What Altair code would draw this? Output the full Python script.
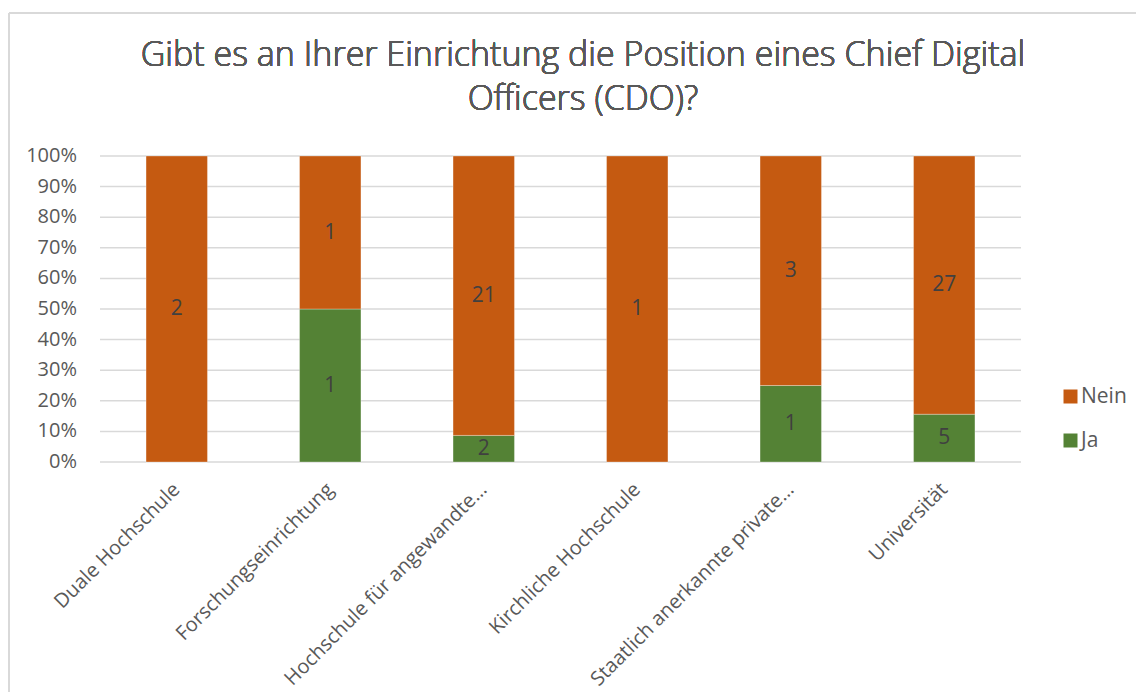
import altair as alt
import pandas as pd

categories = [
    "Duale Hochschule",
    "Forschungseinrichtung",
    "Hochschule für angewandte…",
    "Kirchliche Hochschule",
    "Staatlich anerkannte private…",
    "Universität",
]
ja_counts = [0, 1, 2, 0, 1, 5]
nein_counts = [2, 1, 21, 1, 3, 27]
answers = ["Nein", "Ja"]
answer_colors = ["#C55A11", "#548235"]
y_ticks = [0, 10, 20, 30, 40, 50, 60, 70, 80, 90, 100]
title_lines = ["Gibt es an Ihrer Einrichtung die Position eines Chief Digital",
               "Officers (CDO)?"]

rows = []
for c, j, n in zip(categories, ja_counts, nein_counts):
    rows.append({"cat": c, "answer": "Ja", "value": j})
    rows.append({"cat": c, "answer": "Nein", "value": n})
df = pd.DataFrame(rows)
ticks_df = pd.DataFrame({"t": y_ticks})

FONT = "Open Sans"
GREY = "#595959"

x_axis = alt.Axis(labelAngle=-45, labelFontSize=20, labelColor=GREY, labelFont=FONT,
                  ticks=False, domain=False, labelPadding=17, labelOffset=-7,
                  labelLimit=400, grid=False)
x_scale = alt.Scale(paddingInner=0.6, paddingOuter=0.3)
y_scale = alt.Scale(domain=[0, 100], nice=False)

# percentage gridlines and tick labels, placed through the y scale
grid = alt.Chart(ticks_df).mark_rule(color="#d9d9d9", strokeWidth=1.5).encode(
    y=alt.Y("t:Q", scale=y_scale, axis=None),
    x=alt.value(0), x2=alt.value(921),
)
tick_labels = (
    alt.Chart(ticks_df)
    .transform_calculate(lbl="datum.t + '%'")
    .mark_text(align="right", baseline="middle", fontSize=20, font=FONT, color=GREY)
    .encode(y=alt.Y("t:Q", scale=y_scale, axis=None), x=alt.value(-23),
            text="lbl:N")
)

base = (
    alt.Chart(df)
    .transform_calculate(ord="datum.answer === 'Ja' ? 0 : 1")
    .transform_stack(stack="value", groupby=["cat"], as_=["s0", "s1"],
                     offset="normalize", sort=[alt.SortField("ord", order="ascending")])
    .transform_calculate(y0="datum.s0 * 100", y1="datum.s1 * 100",
                         mid="(datum.s0 + datum.s1) * 50")
)

bars = base.mark_bar(stroke="white", strokeWidth=0.6, strokeOpacity=0.5).encode(
    x=alt.X("cat:N", sort=categories, title=None, scale=x_scale, axis=x_axis),
    y=alt.Y("y0:Q", title=None, scale=y_scale, axis=None),
    y2="y1:Q",
    color=alt.Color("answer:N", title=None,
                    scale=alt.Scale(domain=answers, range=answer_colors),
                    legend=alt.Legend(orient="none", legendX=960, legendY=230,
                                      symbolType="square", symbolSize=196,
                                      symbolStrokeWidth=0, labelFontSize=21,
                                      labelColor=GREY, labelFont=FONT,
                                      rowPadding=22, labelOffset=0)),
)

labels = (
    base.transform_filter("datum.value > 0")
    .mark_text(fontSize=21, color="#404040", font=FONT)
    .encode(x=alt.X("cat:N", sort=categories, title=None, scale=x_scale, axis=x_axis),
            y=alt.Y("mid:Q", title=None, scale=y_scale, axis=None),
            text="value:Q")
)

# chart title, drawn as text above the plot
title = alt.Chart(df).mark_text(
    text=title_lines, fontSize=34, font=FONT, fontWeight=300, color=GREY, lineHeight=44,
    align="center", baseline="alphabetic",
).encode(x=alt.value(483), y=alt.value(-90))

# decorative frame of the chart box
frame_left = alt.Chart(df).mark_rule(color="#d9d9d9", strokeWidth=2).encode(
    x=alt.value(-91), y=alt.value(-143), y2=alt.value(540))
frame_top = alt.Chart(df).mark_rule(color="#d9d9d9", strokeWidth=2).encode(
    x=alt.value(-91), x2=alt.value(1100), y=alt.value(-143))

chart = (
    alt.layer(frame_left, frame_top, grid, tick_labels, bars, labels, title)
    .properties(
        width=921, height=306,
        autosize=alt.AutoSizeParams(type="none"),
        padding={"left": 92, "top": 148, "right": 115, "bottom": 230},
    )
    .configure_view(stroke=None)
)

chart.save("out.html", embed_options={"renderer": "svg", "actions": False})
